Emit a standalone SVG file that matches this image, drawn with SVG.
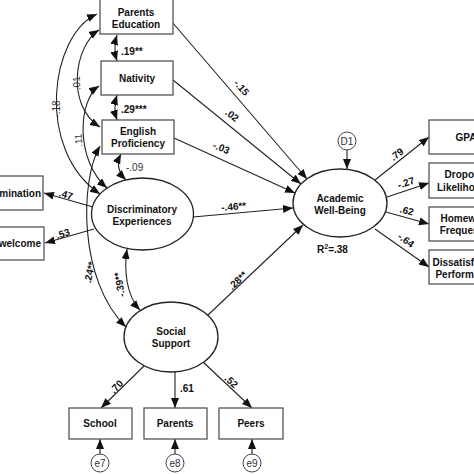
<svg xmlns="http://www.w3.org/2000/svg" width="474" height="474" viewBox="0 0 474 474">
<style>
  .box{fill:#fff;stroke:#555;stroke-width:1.3}
  .lat{fill:#fff;stroke:#222;stroke-width:1.3}
  .err{fill:#fff;stroke:#444;stroke-width:1}
  .t{font-family:"Liberation Sans",Arial,sans-serif;font-size:10px;font-weight:bold;fill:#111;text-anchor:middle}
  .l{font-family:"Liberation Sans",Arial,sans-serif;font-size:10px;font-weight:bold;fill:#111}
  .r{font-family:"Liberation Sans",Arial,sans-serif;font-size:10px;font-weight:normal;fill:#333}
  .c line,.c path{stroke:#222;stroke-width:1.1;fill:none;marker-end:url(#ah)}
  .c .dbl{marker-start:url(#ah)}
</style>
<defs>
  <marker id="ah" markerUnits="userSpaceOnUse" markerWidth="11" markerHeight="9" refX="10" refY="4" orient="auto-start-reverse">
    <path d="M0,0 L10,4 L0,8 z" fill="#111"/>
  </marker>
</defs>
<rect width="474" height="474" fill="#fff"/>

<g id="connectors" class="c">
  <!-- covariances -->
  <path class="dbl" d="M117 35 Q113 48 117 61"/>
  <path class="dbl" d="M117 95 Q113 108 117 120"/>
  <path class="dbl" d="M121 154 Q114 168 126 180"/>
  <path class="dbl" d="M97 14 C50 35 35 150 100 194"/>
  <path class="dbl" d="M99 30 C75 45 65 105 100 127"/>
  <path class="dbl" d="M99 86 C78 100 75 160 107 188"/>
  <path class="dbl" d="M100 146 C80 180 78 280 126 327"/>
  <path class="dbl" d="M127 249 C124 270 126 295 140 310"/>
  <!-- paths -->
  <line x1="172" y1="22" x2="307" y2="179"/>
  <line x1="173" y1="80" x2="301" y2="184"/>
  <line x1="174" y1="138" x2="295" y2="193"/>
  <line x1="193" y1="217" x2="293" y2="208"/>
  <line x1="208" y1="315" x2="303" y2="225"/>
  <line x1="93" y1="207" x2="44" y2="193"/>
  <line x1="94" y1="229" x2="45" y2="243"/>
  <line x1="375" y1="180" x2="429" y2="137"/>
  <line x1="387" y1="197" x2="429" y2="183"/>
  <line x1="386" y1="212" x2="429" y2="224"/>
  <line x1="375" y1="229" x2="429" y2="267"/>
  <line x1="144" y1="366" x2="101" y2="408"/>
  <line x1="175" y1="372" x2="175" y2="408"/>
  <line x1="203" y1="362" x2="252" y2="408"/>
  <line x1="347" y1="150" x2="347" y2="169"/>
  <line x1="100" y1="454" x2="100" y2="439"/>
  <line x1="175" y1="454" x2="175" y2="439"/>
  <line x1="252" y1="454" x2="252" y2="439"/>
</g>

<g id="labels">
  <text class="l" x="121" y="55">.19**</text>
  <text class="l" x="121" y="113">.29***</text>
  <text class="r" x="126" y="171">-.09</text>
  <text class="r" text-anchor="middle" transform="translate(60,109) rotate(-90)">-.18</text>
  <text class="r" text-anchor="middle" transform="translate(80,83) rotate(-95)">.01</text>
  <text class="r" text-anchor="middle" transform="translate(82,140) rotate(-95)">.11</text>
  <text class="t" transform="translate(93,273) rotate(-78)">.24**</text>
  <text class="t" transform="translate(123,284) rotate(-100)">-.39**</text>
  <text class="t" transform="translate(239,90) rotate(48)">-.15</text>
  <text class="t" transform="translate(230,118) rotate(38)">.02</text>
  <text class="t" transform="translate(220,151) rotate(22)">-.03</text>
  <text class="t" transform="translate(234,210) rotate(-5)">-.46**</text>
  <text class="t" transform="translate(240,283) rotate(-44)">.28**</text>
  <text class="t" transform="translate(399,157) rotate(-38)">.79</text>
  <text class="t" transform="translate(407,186) rotate(-18)">-.27</text>
  <text class="t" transform="translate(406,214) rotate(15)">.62</text>
  <text class="t" transform="translate(404,243) rotate(37)">-.64</text>
  <text class="t" transform="translate(65,198) rotate(17)">.47</text>
  <text class="t" transform="translate(64,237) rotate(-17)">.53</text>
  <text class="t" transform="translate(119,389) rotate(-45)">.70</text>
  <text class="l" x="180" y="392">.61</text>
  <text class="t" transform="translate(229,384) rotate(42)">.52</text>
  <text class="l" x="317" y="253">R<tspan font-size="7" dy="-4">2</tspan><tspan dy="4">=.38</tspan></text>
</g>

<g id="parents-education"><rect class="box" x="100" y="-2" width="73" height="36"/><text class="t" x="136" y="16">Parents</text><text class="t" x="136" y="28">Education</text></g>
<g id="nativity"><rect class="box" x="101" y="61" width="72" height="34"/><text class="t" x="137" y="82">Nativity</text></g>
<g id="english-proficiency"><rect class="box" x="102" y="120" width="72" height="34"/><text class="t" x="138" y="135">English</text><text class="t" x="138" y="147">Proficiency</text></g>
<g id="discrimination"><rect class="box" x="-40" y="176" width="83" height="34"/><text class="l" x="41" y="197" text-anchor="end">Discrimination</text></g>
<g id="unwelcome"><rect class="box" x="-40" y="227" width="84" height="33"/><text class="l" x="41" y="247" text-anchor="end">Unwelcome</text></g>
<g id="discriminatory-experiences"><ellipse class="lat" cx="142.5" cy="214" rx="51" ry="36"/><text class="t" x="142" y="213">Discriminatory</text><text class="t" x="142" y="225">Experiences</text></g>
<g id="academic-well-being"><ellipse class="lat" cx="340" cy="203" rx="47" ry="34"/><text class="t" x="340" y="202">Academic</text><text class="t" x="340" y="214">Well-Being</text></g>
<g id="d1"><circle class="err" cx="347" cy="141" r="9"/><text class="r" x="347" y="145" text-anchor="middle">D1</text></g>
<g id="gpa"><rect class="box" x="429" y="120" width="80" height="34"/><text class="t" x="466" y="141">GPA</text></g>
<g id="dropout"><rect class="box" x="429" y="163" width="80" height="35"/><text class="t" x="464" y="178">Dropout</text><text class="t" x="462" y="191">Likelihood</text></g>
<g id="homework"><rect class="box" x="429" y="207" width="80" height="34"/><text class="t" x="466" y="222">Homework</text><text class="t" x="465" y="234">Frequency</text></g>
<g id="dissatisfaction"><rect class="box" x="429" y="250" width="80" height="34"/><text class="t" x="468" y="266">Dissatisfaction</text><text class="t" x="466" y="278">Performance</text></g>
<g id="social-support"><ellipse class="lat" cx="171" cy="337" rx="47" ry="35"/><text class="t" x="171" y="335">Social</text><text class="t" x="171" y="347">Support</text></g>
<g id="school"><rect class="box" x="69" y="408" width="63" height="31"/><text class="t" x="100" y="427">School</text></g>
<g id="parents"><rect class="box" x="144" y="408" width="63" height="31"/><text class="t" x="175" y="427">Parents</text></g>
<g id="peers"><rect class="box" x="219" y="408" width="64" height="31"/><text class="t" x="251" y="427">Peers</text></g>
<g id="e7"><circle class="err" cx="100" cy="463" r="9"/><text class="r" x="100" y="467" text-anchor="middle">e7</text></g>
<g id="e8"><circle class="err" cx="175" cy="463" r="9"/><text class="r" x="175" y="467" text-anchor="middle">e8</text></g>
<g id="e9"><circle class="err" cx="252" cy="463" r="9"/><text class="r" x="252" y="467" text-anchor="middle">e9</text></g>
</svg>
